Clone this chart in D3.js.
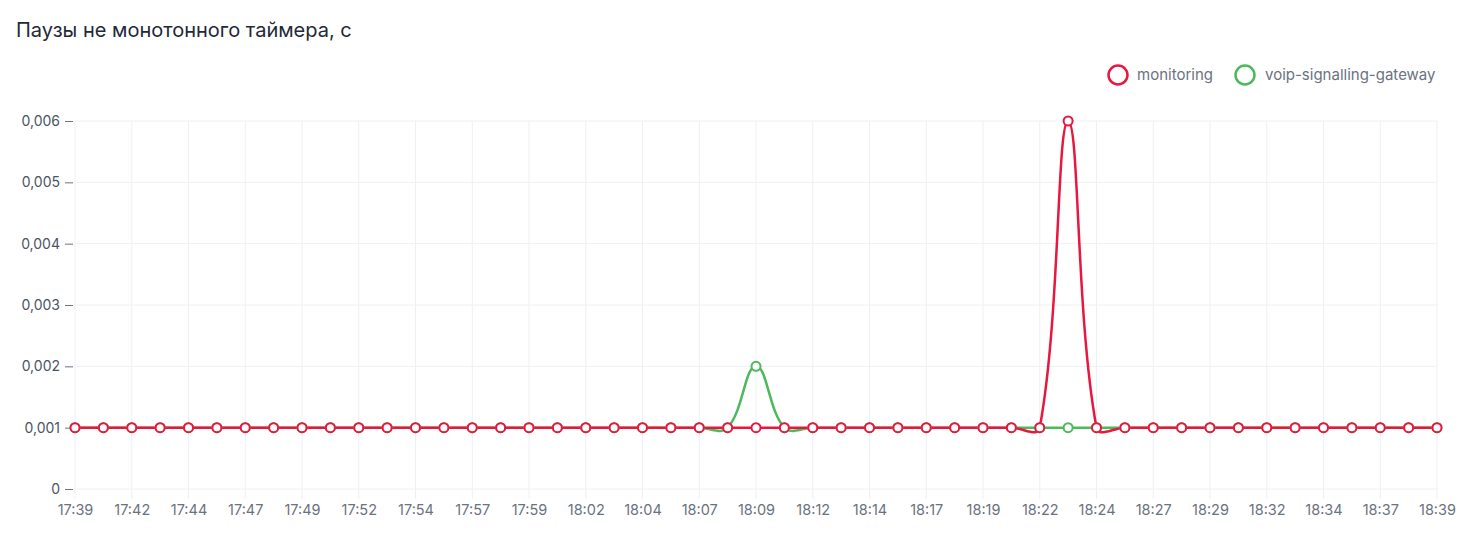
<!DOCTYPE html>
<html>
<head>
<meta charset="utf-8">
<script src="https://cdn.jsdelivr.net/npm/d3@7"></script>
<style>
  html, body { margin: 0; padding: 0; background: #ffffff; }
  svg { display: block; font-family: Inter, "Noto Sans", sans-serif; }
</style>
</head>
<body>
<svg id="chart" width="1475" height="540"></svg>
<script>
// ---- data ----
const title = "Паузы не монотонного таймера, с";
const times = [
  "17:39:00","17:40:15","17:41:30","17:42:45","17:44:00","17:45:15","17:46:30","17:47:45",
  "17:49:00","17:50:15","17:51:30","17:52:45","17:54:00","17:55:15","17:56:30","17:57:45",
  "17:59:00","18:00:15","18:01:30","18:02:45","18:04:00","18:05:15","18:06:30","18:07:45",
  "18:09:00","18:10:15","18:11:30","18:12:45","18:14:00","18:15:15","18:16:30","18:17:45",
  "18:19:00","18:20:15","18:21:30","18:22:45","18:24:00","18:25:15","18:26:30","18:27:45",
  "18:29:00","18:30:15","18:31:30","18:32:45","18:34:00","18:35:15","18:36:30","18:37:45",
  "18:39:00"
];
const tickLabels = [
  "17:39","17:42","17:44","17:47","17:49","17:52","17:54","17:57","17:59",
  "18:02","18:04","18:07","18:09","18:12","18:14","18:17","18:19","18:22",
  "18:24","18:27","18:29","18:32","18:34","18:37","18:39"
];
const monitoring = [
  0.001,0.001,0.001,0.001,0.001,0.001,0.001,0.001,
  0.001,0.001,0.001,0.001,0.001,0.001,0.001,0.001,
  0.001,0.001,0.001,0.001,0.001,0.001,0.001,0.001,
  0.001,0.001,0.001,0.001,0.001,0.001,0.001,0.001,
  0.001,0.001,0.001,0.006,0.001,0.001,0.001,0.001,
  0.001,0.001,0.001,0.001,0.001,0.001,0.001,0.001,
  0.001
];
const voipGateway = [
  0.001,0.001,0.001,0.001,0.001,0.001,0.001,0.001,
  0.001,0.001,0.001,0.001,0.001,0.001,0.001,0.001,
  0.001,0.001,0.001,0.001,0.001,0.001,0.001,0.001,
  0.002,0.001,0.001,0.001,0.001,0.001,0.001,0.001,
  0.001,0.001,0.001,0.001,0.001,0.001,0.001,0.001,
  0.001,0.001,0.001,0.001,0.001,0.001,0.001,0.001,
  0.001
];
const yTicks = [0, 0.001, 0.002, 0.003, 0.004, 0.005, 0.006];
const seriesNames = ["monitoring", "voip-signalling-gateway"];
const seriesColors = ["#e8173f", "#4cb95c"];

// ---- layout ----
const plotLeft = 75, plotRight = 1437, plotTop = 121, plotBottom = 489;
const svg = d3.select("#chart");

const x = d3.scalePoint().domain(times).range([plotLeft, plotRight]);
const y = d3.scaleLinear().domain([0, 0.006]).range([plotBottom, plotTop]);
const tickTimes = times.filter((d, i) => i % 2 === 0);

// Chart.js-like spline curve (tension 0.4)
function ChartJsCurve(context) { this._context = context; this._t = 0.4; }
ChartJsCurve.prototype = {
  areaStart() { this._line = 0; },
  areaEnd() { this._line = NaN; },
  lineStart() { this._pts = []; },
  point(px, py) { this._pts.push([+px, +py]); },
  lineEnd() {
    const p = this._pts, n = p.length, t = this._t, ctx = this._context;
    if (!n) return;
    const cps = p.map((cur, i) => {
      const prev = p[i - 1] || cur, next = p[i + 1] || cur;
      const d01 = Math.hypot(cur[0] - prev[0], cur[1] - prev[1]);
      const d12 = Math.hypot(next[0] - cur[0], next[1] - cur[1]);
      let s01 = d01 / (d01 + d12), s12 = d12 / (d01 + d12);
      if (!isFinite(s01)) s01 = 0;
      if (!isFinite(s12)) s12 = 0;
      const fa = t * s01, fb = t * s12;
      const dx = next[0] - prev[0], dy = next[1] - prev[1];
      return {
        prev: [cur[0] - fa * dx, cur[1] - fa * dy],
        next: [cur[0] + fb * dx, cur[1] + fb * dy]
      };
    });
    ctx.moveTo(p[0][0], p[0][1]);
    for (let i = 1; i < n; i++) {
      ctx.bezierCurveTo(cps[i - 1].next[0], cps[i - 1].next[1], cps[i].prev[0], cps[i].prev[1], p[i][0], p[i][1]);
    }
  }
};
const chartJsCurve = ctx => new ChartJsCurve(ctx);

// title
svg.append("text")
  .attr("x", 16).attr("y", 37)
  .attr("font-size", 20).attr("fill", "#1f2937")
  .text(title);

// grid
const grid = svg.append("g");
grid.selectAll(".hg").data(yTicks).join("line")
  .attr("x1", plotLeft).attr("x2", plotRight)
  .attr("y1", d => y(d)).attr("y2", d => y(d))
  .attr("stroke", "#eef0f4").attr("stroke-width", 1);
grid.selectAll(".vg").data(tickTimes).join("line")
  .attr("x1", d => x(d)).attr("x2", d => x(d))
  .attr("y1", plotTop).attr("y2", plotBottom + 10)
  .attr("stroke", "#eef0f4").attr("stroke-width", 1);

// y axis
const yAxis = d3.axisLeft(y).tickValues(yTicks)
  .tickFormat(d => d === 0 ? "0" : d3.format(".3f")(d).replace(".", ","))
  .tickSize(8).tickPadding(5);
const yg = svg.append("g").attr("transform", `translate(${plotLeft - 2},0)`).call(yAxis);
yg.select(".domain").remove();
yg.selectAll(".tick line").attr("stroke", "#6b7280");
yg.selectAll(".tick text").attr("font-size", 14).attr("fill", "#4b5563")
  .attr("font-family", "Inter, 'Noto Sans', sans-serif");

// x axis
const xAxis = d3.axisBottom(x).tickValues(tickTimes)
  .tickFormat((d, i) => tickLabels[i]).tickSize(0).tickPadding(16);
const xg = svg.append("g").attr("transform", `translate(0,${plotBottom})`).call(xAxis);
xg.select(".domain").remove();
xg.selectAll(".tick text").attr("font-size", 14.5).attr("fill", "#6b7280")
  .attr("font-family", "Inter, 'Noto Sans', sans-serif");

// series: draw green first, red on top
const series = [
  { name: seriesNames[1], values: voipGateway, color: seriesColors[1] },
  { name: seriesNames[0], values: monitoring, color: seriesColors[0] }
];
const line = d3.line().x((d, i) => x(times[i])).y(d => y(d)).curve(chartJsCurve);

series.forEach(s => {
  svg.append("path").datum(s.values)
    .attr("d", line)
    .attr("fill", "none").attr("stroke", s.color).attr("stroke-width", 2.5);
});
series.forEach(s => {
  svg.append("g").selectAll("circle").data(s.values).join("circle")
    .attr("cx", (d, i) => x(times[i])).attr("cy", d => y(d)).attr("r", 4.5)
    .attr("fill", "#ffffff").attr("stroke", s.color).attr("stroke-width", 2);
});

// legend
const legendItems = [
  { name: seriesNames[0], color: seriesColors[0], cx: 1118, tx: 1137 },
  { name: seriesNames[1], color: seriesColors[1], cx: 1245, tx: 1265 }
];
const lg = svg.append("g");
legendItems.forEach(it => {
  lg.append("circle").attr("cx", it.cx).attr("cy", 75).attr("r", 9.5)
    .attr("fill", "#ffffff").attr("stroke", it.color).attr("stroke-width", 2.5);
  lg.append("text").attr("x", it.tx).attr("y", 80)
    .attr("font-size", 15).attr("fill", "#6b7280").text(it.name);
});
</script>
</body>
</html>
